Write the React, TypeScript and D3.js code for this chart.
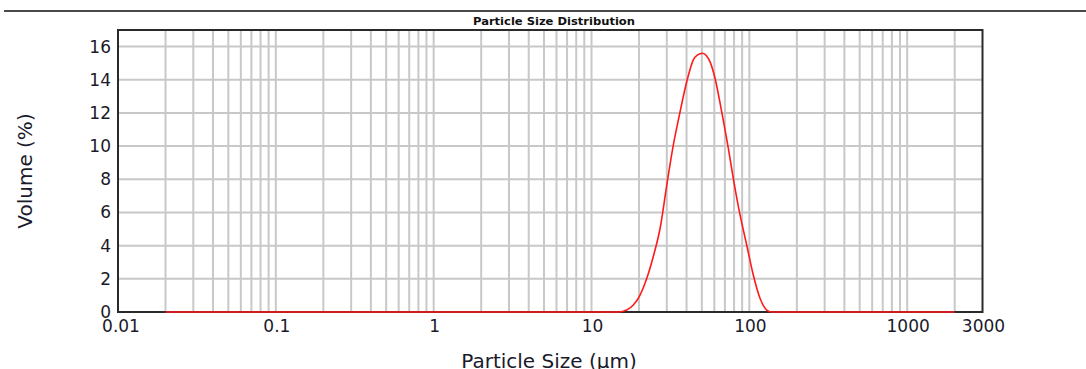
import React from "react";
import * as d3 from "d3";

// ---- data ----
const sizes: number[] = [
  0.02, 1, 10, 14.8, 16.7, 18.4, 20.3, 22.4, 24.6, 27.2, 30.2, 33.0, 36.4, 40.1,
  44.1, 47.0, 50.5, 53.5, 56.3, 60.6, 66.8, 73.6, 79.1, 87.3, 96.2, 105.9,
  116.8, 128.8, 138.5, 500, 2000,
];
const volumes: number[] = [
  0, 0, 0, 0, 0.12, 0.42, 1.02, 2.03, 3.33, 5.05, 7.85, 10.07, 12.07, 13.88,
  15.19, 15.5, 15.6, 15.45, 15.09, 14.09, 12.07, 9.87, 8.06, 5.85, 4.04, 2.23,
  0.83, 0.12, 0, 0, 0,
];
const xTickValues: number[] = [0.01, 0.1, 1, 10, 100, 1000, 3000];
const xTickLabels: string[] = ["0.01", "0.1", "1", "10", "100", "1000", "3000"];
const yTickValues: number[] = [0, 2, 4, 6, 8, 10, 12, 14, 16];
const title = "Particle Size Distribution";
const xTitle = "Particle Size (µm)";
const yTitle = "Volume (%)";

const W = 1086;
const H = 369;
const m = { left: 118, right: 982.5, top: 30, bottom: 312 };

export default function App() {
  const x = d3.scaleLog().domain([0.01, 3000]).range([m.left, m.right]);
  const y = d3.scaleLinear().domain([0, 17]).range([m.bottom, m.top]);

  const gridX: number[] = [];
  for (let e = -2; e <= 3; e++) {
    for (let k = 1; k <= 9; k++) {
      const v = k * Math.pow(10, e);
      if (v > 0.01 * 1.0001 && v < 3000 * 0.9999) gridX.push(v);
    }
  }
  const gridY = yTickValues.filter((v) => v > 0);

  const pts: [number, number][] = sizes.map((s, i) => [s, volumes[i]]);
  const line = d3
    .line<[number, number]>()
    .x((d) => x(d[0]))
    .y((d) => y(d[1]))
    .curve(d3.curveMonotoneX);

  const font = "'DejaVu Sans', Verdana, sans-serif";

  return (
    <svg
      width={W}
      height={H}
      style={{ position: "fixed", left: 0, top: 0, background: "#fff" }}
    >
      <rect x={0} y={0} width={W} height={H} fill="#fff" />
      <line x1={4} x2={W} y1={11} y2={11} stroke="#4a4a4a" strokeWidth={2} />
      <text
        x={554}
        y={25}
        textAnchor="middle"
        fontFamily={font}
        fontWeight="bold"
        fontSize={11}
        fill="#111"
        textLength={162}
        lengthAdjust="spacingAndGlyphs"
      >
        {title}
      </text>

      {/* grid */}
      <g stroke="#c8c8c8" strokeWidth={2}>
        {gridX.map((v) => (
          <line key={"gx" + v} x1={x(v)} x2={x(v)} y1={m.top} y2={m.bottom} />
        ))}
        {gridY.map((v) => (
          <line key={"gy" + v} x1={m.left} x2={m.right} y1={y(v)} y2={y(v)} />
        ))}
      </g>

      {/* frame */}
      <rect
        x={m.left}
        y={m.top}
        width={m.right - m.left}
        height={m.bottom - m.top}
        fill="none"
        stroke="#2a2a2a"
        strokeWidth={2}
      />

      {/* data */}
      <path d={line(pts) || ""} fill="none" stroke="#ff1a1a" strokeWidth={1.6} />

      {/* y ticks */}
      <g fontFamily={font} fontSize={17} fill="#1a1a2a">
        {yTickValues.map((v) => (
          <text key={"yt" + v} x={111} y={y(v) + 6} textAnchor="end">
            {v}
          </text>
        ))}
      </g>
      {/* x ticks */}
      <g fontFamily={font} fontSize={17} fill="#1a1a2a">
        {xTickValues.map((v, i) => (
          <text key={"xt" + v} x={x(v) + (i === 0 ? 3 : 1)} y={332} textAnchor="middle">
            {xTickLabels[i]}
          </text>
        ))}
      </g>

      <text
        x={549}
        y={368}
        textAnchor="middle"
        fontFamily={font}
        fontSize={20}
        fill="#1a1a2a"
      >
        {xTitle}
      </text>
      <text
        transform={`translate(32,171) rotate(-90)`}
        textAnchor="middle"
        fontFamily={font}
        fontSize={20}
        fill="#1a1a2a"
      >
        {yTitle}
      </text>
    </svg>
  );
}
